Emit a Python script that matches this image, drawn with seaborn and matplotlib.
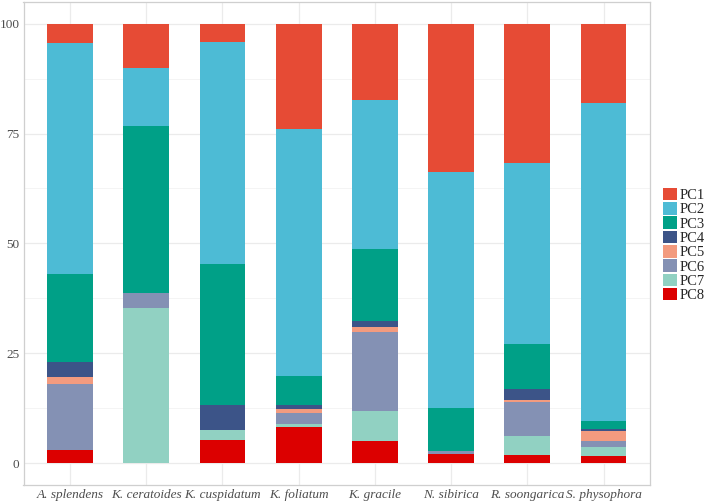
import pandas as pd
import numpy as np
import matplotlib.pyplot as plt
import seaborn as sns

species = ['A. splendens', 'K. ceratoides', 'K. cuspidatum', 'K. foliatum',
           'K. gracile', 'N. sibirica', 'R. soongarica', 'S. physophora']
pcs = ['PC1', 'PC2', 'PC3', 'PC4', 'PC5', 'PC6', 'PC7', 'PC8']

# share of each component per species (%)
pc1 = [4.5, 10.1, 4.1, 24.0, 17.4, 33.8, 31.6, 18.1]
pc2 = [52.5, 13.1, 50.6, 56.1, 33.9, 53.6, 41.2, 72.3]
pc3 = [20.1, 38.2, 32.2, 6.7, 16.4, 9.9, 10.4, 1.9]
pc4 = [3.3, 0.0, 5.6, 1.0, 1.4, 0.0, 2.5, 0.4]
pc5 = [1.6, 0.0, 0.0, 0.9, 1.0, 0.0, 0.3, 2.3]
pc6 = [15.0, 3.4, 0.0, 2.4, 18.0, 0.7, 7.9, 1.4]
pc7 = [0.0, 35.2, 2.3, 0.8, 6.8, 0.0, 4.2, 2.0]
pc8 = [3.0, 0.0, 5.2, 8.1, 5.1, 2.0, 1.9, 1.6]

colors = ['#E64B35', '#4DBBD5', '#00A087', '#3C5488',
          '#F39B7F', '#8491B4', '#91D1C2', '#DC0000']

vals = [pc1, pc2, pc3, pc4, pc5, pc6, pc7, pc8]
rows = []
for pc, v in zip(pcs, vals):
    for sp, x in zip(species, v):
        rows.append({'species': sp, 'PC': pc, 'value': x})
df = pd.DataFrame(rows)
df['species'] = pd.Categorical(df['species'], categories=species, ordered=True)

sns.set_style('white')
plt.rcParams['font.family'] = ['Liberation Serif', 'DejaVu Serif']

fig = plt.figure(figsize=(7.08, 5.03), dpi=100)
ax = fig.add_axes([23.5 / 708, 1 - 485 / 503, (650 - 23.5) / 708, (485 - 1.7) / 503])

sns.histplot(data=df, x='species', hue='PC', weights='value', hue_order=pcs,
             palette=colors, multiple='stack', discrete=True, shrink=0.6,
             linewidth=0, alpha=1, ax=ax, zorder=3)

ax.set_xlim(-0.61, 7.61)
ax.set_ylim(-5, 105)
ax.set_yticks([0, 25, 50, 75, 100])
ax.set_yticks([12.5, 37.5, 62.5, 87.5], minor=True)
ax.grid(True, which='major', color='#EBEBEB', linewidth=0.9, zorder=0)
ax.grid(True, which='minor', axis='y', color='#F2F2F2', linewidth=0.6, zorder=0)
ax.set_axisbelow(True)
ax.set_xlabel('')
ax.set_ylabel('')
for s in ax.spines.values():
    s.set_color('#CFCFCF')
    s.set_linewidth(0.9)
ax.tick_params(axis='both', which='both', length=0, labelsize=9.5,
               labelcolor='#4D4D4D')
ax.tick_params(axis='y', pad=3)
ax.tick_params(axis='x', pad=3)
for lab in ax.get_xticklabels():
    lab.set_fontstyle('italic')

leg = ax.get_legend()
handles = leg.legend_handles
labels = [t.get_text() for t in leg.get_texts()]
leg.remove()
fig.legend(handles, labels, loc='center left', bbox_to_anchor=(663 / 708, 1 - 245 / 503),
           frameon=False, fontsize=10.5, handlelength=0.95, handleheight=0.95,
           labelspacing=0.0, handletextpad=0.2, borderpad=0, borderaxespad=0)

fig.savefig('out.png', dpi=100)
